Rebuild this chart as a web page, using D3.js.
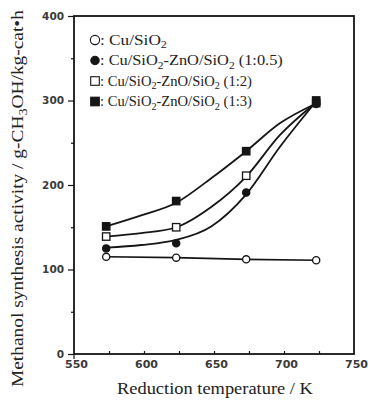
<!DOCTYPE html>
<html><head><meta charset="utf-8">
<script src="https://cdn.jsdelivr.net/npm/d3@7"></script>
<style>body{margin:0;background:#fff}svg{display:block}</style>
</head><body>
<svg id="c" width="368" height="406"></svg>
<script>
// measured points
const temps = [573, 623, 673, 723];
const cuSiO2 = [115, 114, 112, 111];
const mix05 = [125, 131, 191, 296];
const mix2 = [139, 150, 211, 297];
const mix3 = [151, 181, 240, 300];
// hand-drawn fit curves
const fitTemps = [573, 598, 623, 648, 673, 697, 721];
const fit05 = [126, 129, 135, 151, 189, 245, 295];
const fit2 = [139, 143, 150, 174, 210, 259, 295];
const fit3 = [151, 164, 179, 208, 240, 273, 295];
const xTicks = [550, 600, 650, 700, 750];
const yTicks = [0, 100, 200, 300, 400];
const legendNames = ["(1:0.5)", "(1:2)", "(1:3)"];

const W = 368, H = 406;
const m = {l: 74, r: 14, t: 16, b: 52};
const svg = d3.select("#c");
const x = d3.scaleLinear().domain([550, 750]).range([m.l, W - m.r]);
const y = d3.scaleLinear().domain([0, 400]).range([H - m.b, m.t]);
const ink = "#151515";
const serif = "Liberation Serif, Times New Roman, serif";
const tickFont = "DejaVu Sans, sans-serif";

function fitWidth(sel, target, x0) {
  const w = sel.node().getComputedTextLength();
  const k = target / w;
  const prev = sel.attr("transform") || "";
  sel.attr("transform", `${prev} translate(${x0},0) scale(${k},1) translate(${-x0},0)`);
}

// frame
svg.append("rect").attr("x", m.l).attr("y", m.t)
  .attr("width", W - m.l - m.r).attr("height", H - m.t - m.b)
  .attr("fill", "none").attr("stroke", ink).attr("stroke-width", 1.8);

// x axis
const xa = svg.append("g").attr("transform", `translate(0,${H - m.b})`)
  .call(d3.axisBottom(x).tickValues(xTicks).tickSize(0).tickPadding(6).tickFormat(d3.format("d")));
xa.select(".domain").remove();
xa.selectAll("text").attr("font-family", tickFont)
  .attr("font-size", 11).attr("font-weight", "bold").attr("fill", "#3a3a3a").attr("dx", 2);
svg.append("g").attr("transform", `translate(0,${H - m.b})`)
  .call(d3.axisTop(x).tickValues(d3.range(575, 750, 25)).tickSize(3).tickFormat(""))
  .call(g => g.select(".domain").remove())
  .selectAll("line").attr("stroke", ink).attr("stroke-width", 1.2);
svg.append("line").attr("x1", x(550)).attr("x2", x(550))
  .attr("y1", H - m.b).attr("y2", H - m.b + 5).attr("stroke", ink).attr("stroke-width", 1.2);

// y axis
const ya = svg.append("g").attr("transform", `translate(${m.l},0)`)
  .call(d3.axisLeft(y).tickValues(yTicks).tickSize(6).tickPadding(4));
ya.select(".domain").remove();
ya.selectAll("line").attr("stroke", ink).attr("stroke-width", 1.2);
ya.selectAll("text").attr("font-family", tickFont)
  .attr("font-size", 10.5).attr("font-weight", "bold").attr("fill", "#3a3a3a");
svg.append("g").attr("transform", `translate(${m.l},0)`)
  .call(d3.axisLeft(y).tickValues([50, 150, 250, 350]).tickSize(3).tickFormat(""))
  .call(g => g.select(".domain").remove())
  .selectAll("line").attr("stroke", ink).attr("stroke-width", 1.2);

// axis titles
const xt = svg.append("text").attr("x", 117).attr("y", 394)
  .attr("font-family", serif).attr("font-size", 17).attr("fill", "#222")
  .text("Reduction temperature / K");
fitWidth(xt, 196, 117);

const yt = svg.append("text").attr("transform", `translate(23,387) rotate(-90)`)
  .attr("x", 0).attr("y", 0)
  .attr("font-family", serif).attr("font-size", 16.5).attr("fill", "#222");
yt.append("tspan").text("Methanol synthesis activity / g-CH");
yt.append("tspan").attr("font-size", 12).attr("dy", 4).text("3");
yt.append("tspan").attr("dy", -4).text("OH/kg-cat•h");
fitWidth(yt, 377, 0);

// lines
const lineStraight = d3.line().x((d, i) => x(temps[i])).y(d => y(d));
const lineFit = d3.line().x((d, i) => x(fitTemps[i])).y(d => y(d)).curve(d3.curveMonotoneX);
svg.append("path").datum(cuSiO2).attr("d", lineStraight).attr("fill", "none")
  .attr("stroke", ink).attr("stroke-width", 1.6);
[fit05, fit2, fit3].forEach(s => {
  svg.append("path").datum(s).attr("d", lineFit).attr("fill", "none")
    .attr("stroke", ink).attr("stroke-width", 1.8);
});

// markers
function drawMarkers(data, type) {
  data.forEach((v, i) => {
    const cx = x(temps[i]), cy = y(v);
    if (type === "oc" || type === "fc") {
      svg.append("circle").attr("cx", cx).attr("cy", cy).attr("r", 3.6)
        .attr("fill", type === "fc" ? ink : "#fff").attr("stroke", ink).attr("stroke-width", 1.3);
    } else {
      svg.append("rect").attr("x", cx - 3.7).attr("y", cy - 3.7).attr("width", 7.4).attr("height", 7.4)
        .attr("fill", type === "fs" ? ink : "#fff").attr("stroke", ink).attr("stroke-width", 1.3);
    }
  });
}
drawMarkers(cuSiO2, "oc");
drawMarkers(mix2, "os");
drawMarkers(mix05, "fc");
drawMarkers(mix3, "fs");

// legend
const types = ["oc", "fc", "os", "fs"];
const lx = 95, ly0 = 40, ldy = 20.5;
const ends = [167, 283, 252, 252];
types.forEach((t, i) => {
  const cy = ly0 + i * ldy;
  if (t === "oc" || t === "fc") {
    svg.append("circle").attr("cx", lx).attr("cy", cy).attr("r", t === "oc" ? 4.6 : 4.2)
      .attr("fill", t === "fc" ? ink : "#fff").attr("stroke", ink).attr("stroke-width", 1.1);
  } else {
    svg.append("rect").attr("x", lx - 4.3).attr("y", cy - 4.3).attr("width", 8.6).attr("height", 8.6)
      .attr("fill", t === "fs" ? ink : "#fff").attr("stroke", ink).attr("stroke-width", 1.1);
  }
  const tx = svg.append("text").attr("x", lx + 5).attr("y", cy + 5)
    .attr("font-family", serif).attr("font-size", 15).attr("fill", "#222");
  tx.append("tspan").text(": Cu/SiO");
  tx.append("tspan").attr("font-size", 10.5).attr("dy", 3.5).text("2");
  if (i > 0) {
    tx.append("tspan").attr("dy", -3.5).text("-ZnO/SiO");
    tx.append("tspan").attr("font-size", 10.5).attr("dy", 3.5).text("2");
    tx.append("tspan").attr("dy", -3.5).text(" " + legendNames[i - 1]);
  }
  fitWidth(tx, ends[i] - (lx + 5), lx + 5);
});
</script>
</body></html>
